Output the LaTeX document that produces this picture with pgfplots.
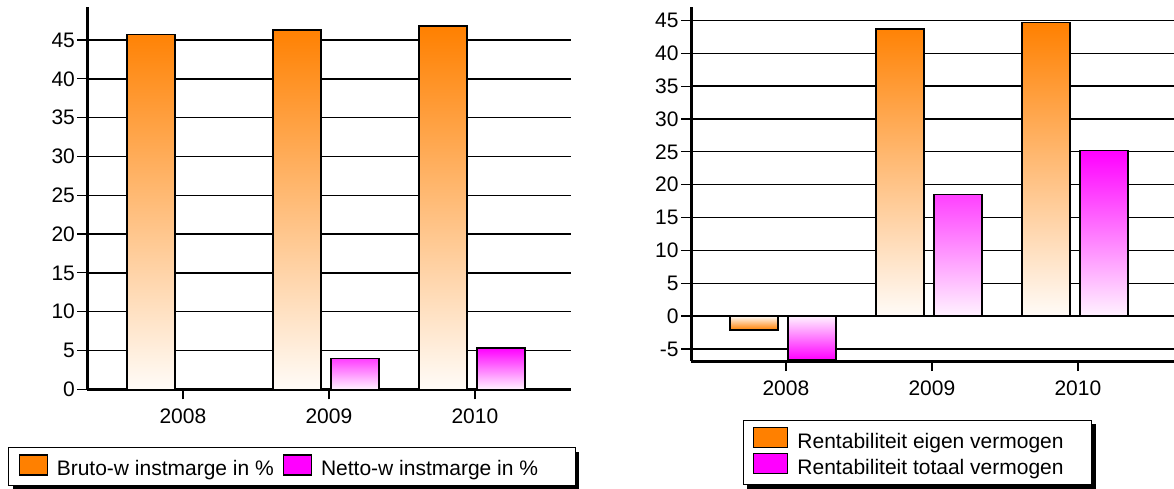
\documentclass[border=0pt]{standalone}
\usepackage{fontspec}
\setmainfont{Liberation Sans}
\usepackage{pgfplots}
\pgfplotsset{compat=1.18}
\usetikzlibrary{shadows}

\definecolor{barorange}{RGB}{255,128,0}
\definecolor{barmagenta}{RGB}{255,0,255}

% legend square drawn with the basic layer, so no shadow preaction reaches it
\newcommand{\legsquare}[2]{%
  \pgfpathrectangle{\pgfpoint{0pt}{-2.6pt}}{\pgfpoint{#2}{10pt}}%
  \pgfsetfillcolor{#1}\pgfsetstrokecolor{black}\pgfsetlinewidth{0.6pt}%
  \pgfusepath{fill,stroke}}

% 1 px of the reference = 0.5pt
\pgfplotsset{
  rapport/.style={
    scale only axis,
    anchor=south west,
    axis x line=bottom,
    axis y line=left,
    axis line style={-, line width=1.5pt},
    ymajorgrids,
    grid style={black, line width=0.65pt},
    tick align=outside,
    major tick length=5pt,
    tick style={black, line width=0.6pt},
    xtick={0.02,1.02,2.02},
    xticklabels={2008,2009,2010},
    xticklabel style={yshift=-1.2pt},
    ybar, bar width=24pt,
    font=\fontsize{10.5}{12.6}\selectfont,
    /pgf/number format/assume math mode=true,
    yticklabel style={inner xsep=1pt},
    legend cell align=left,
    legend style={draw=black, line width=0.6pt, fill=white,
      drop shadow={shadow xshift=2pt, shadow yshift=-2pt, fill=black, opacity=1},
      anchor=north west, inner xsep=5pt, inner ysep=3.4pt,
      nodes={inner sep=0pt}, font=\fontsize{10.5}{12.6}\selectfont},
  },
  oranje/.style={forget plot, draw=black, line width=0.7pt,
    top color=barorange, bottom color=barorange!3!white, bar shift=-14.5pt},
  paars/.style={forget plot, draw=black, line width=0.7pt,
    top color=barmagenta, bottom color=barmagenta!5!white, bar shift=14.5pt},
  % negative bars: shading runs the other way round
  oranjeneg/.style={oranje, top color=barorange!3!white, bottom color=barorange},
  paarsneg/.style={paars, top color=barmagenta!5!white, bottom color=barmagenta},
}

\begin{document}
\begin{tikzpicture}
\useasboundingbox (0,0) rectangle (587pt,244pt);

% links: winstmarges
\begin{axis}[
    rapport,
    at={(43.65pt,49.35pt)},
    width=241.85pt, height=191.3pt,
    xmin=-0.635, xmax=2.678,
    ymin=0, ymax=49.3,
    ytick={0,5,...,45},
    legend columns=2,
    legend style={at={(-0.164,-0.151)},
      /tikz/every odd column/.append style={column sep=4.5pt},
      /tikz/every even column/.append style={column sep=4.5pt}},
]
\addplot[oranje] coordinates {(0,45.7) (1,46.3) (2,46.8)};
\addplot[paars] coordinates {(1,4.0) (2,5.3)};

\addlegendimage{legend image code/.code={\legsquare{barorange}{14pt}}}
\addlegendentry{Bruto-w instmarge in \%}
\addlegendimage{legend image code/.code={\legsquare{barmagenta}{14pt}}}
\addlegendentry{Netto-w instmarge in \%\rule{13.5pt}{0pt}}
\end{axis}

% rechts: rentabiliteit
\begin{axis}[
    rapport,
    at={(345.5pt,63.5pt)},
    width=241.5pt, height=176.85pt,
    xmin=-0.63, xmax=2.678,
    ymin=-6.84, ymax=47.0,
    ytick={-5,0,...,45},
    legend style={at={(0.107,-0.1655)}, row sep=0.9pt,
      /tikz/every odd column/.append style={column sep=4.5pt}},
]
\addplot[oranjeneg] coordinates {(0,-2.1)};
\addplot[oranje] coordinates {(1,43.7) (2,44.7)};
\addplot[paarsneg] coordinates {(0,-6.6)};
\addplot[paars] coordinates {(1,18.5) (2,25.2)};

\addlegendimage{legend image code/.code={\legsquare{barorange}{17pt}}}
\addlegendentry{Rentabiliteit eigen vermogen\rule{9pt}{0pt}}
\addlegendimage{legend image code/.code={\legsquare{barmagenta}{17pt}}}
\addlegendentry{Rentabiliteit totaal vermogen\rule{9pt}{0pt}}
\end{axis}
\end{tikzpicture}
\end{document}
